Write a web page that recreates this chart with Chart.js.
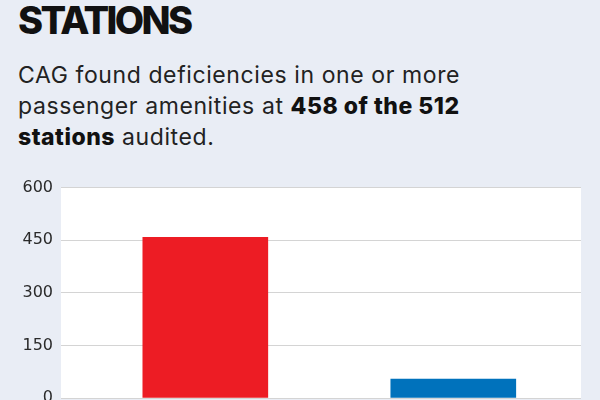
<!DOCTYPE html>
<html><head><meta charset="utf-8">
<script src="https://cdn.jsdelivr.net/npm/chart.js@4"></script>
<style>
html,body{margin:0;padding:0;background:#e9edf5;width:600px;height:400px;overflow:hidden;}
#title{position:absolute;left:18px;top:0;font:800 38px/40px Inter, sans-serif;letter-spacing:-2.6px;color:#111;white-space:nowrap;}
#sub{position:absolute;left:18px;top:60px;font:400 23px/31px Inter,sans-serif;letter-spacing:0.6px;color:#222;white-space:nowrap;}
#sub b{font-weight:800;color:#111;letter-spacing:0.5px}
#wrap{position:absolute;left:0;top:170px;width:600px;height:250px;}
</style></head><body>
<div id="title">STATIONS</div>
<div id="sub">CAG found deficiencies in one or more<br>passenger amenities at <b>458 of the 512</b><br><b>stations</b> audited.</div>
<div id="wrap"><canvas id="c"></canvas></div>
<script>
const categories = ['Stations with deficiencies', 'Stations without deficiencies'];
const stationCounts = [458, 54];
const barColors = ['#ed1c24', '#0072bc'];
const yTickValues = [0, 150, 300, 450, 600];

const plotBg = {
  id: 'plotBg',
  beforeDraw(chart) {
    const {ctx, chartArea: a} = chart;
    ctx.save();
    ctx.fillStyle = '#ffffff';
    ctx.fillRect(a.left, a.top, a.right - a.left, a.bottom - a.top);
    ctx.restore();
  }
};

new Chart(document.getElementById('c'), {
  type: 'bar',
  data: {
    datasets: [{
      label: 'Stations',
      data: categories.map((c, i) => ({x: i, y: stationCounts[i], name: c})),
      backgroundColor: barColors,
      borderWidth: 0,
      barThickness: 125
    }]
  },
  options: {
    responsive: true,
    maintainAspectRatio: false,
    animation: false,
    layout: {padding: {left: 0, right: 19, top: 17, bottom: 22}},
    plugins: {legend: {display: false}, tooltip: {enabled: false}},
    scales: {
      x: {type: 'linear', offset: false, min: -0.582, max: 1.515, display: false, grid: {offset: false}},
      y: {
        min: yTickValues[0],
        max: yTickValues[yTickValues.length - 1],
        afterBuildTicks: s => { s.ticks = yTickValues.map(v => ({value: v})); },
        afterFit: s => { s.width = 61; },
        border: {display: false},
        grid: {color: '#d4d4d4', lineWidth: 1, drawTicks: false},
        ticks: {padding: 8, color: '#2a2a2a', font: {family: 'DejaVu Sans', size: 16}}
      }
    }
  },
  plugins: [plotBg]
});
</script>
</body></html>
